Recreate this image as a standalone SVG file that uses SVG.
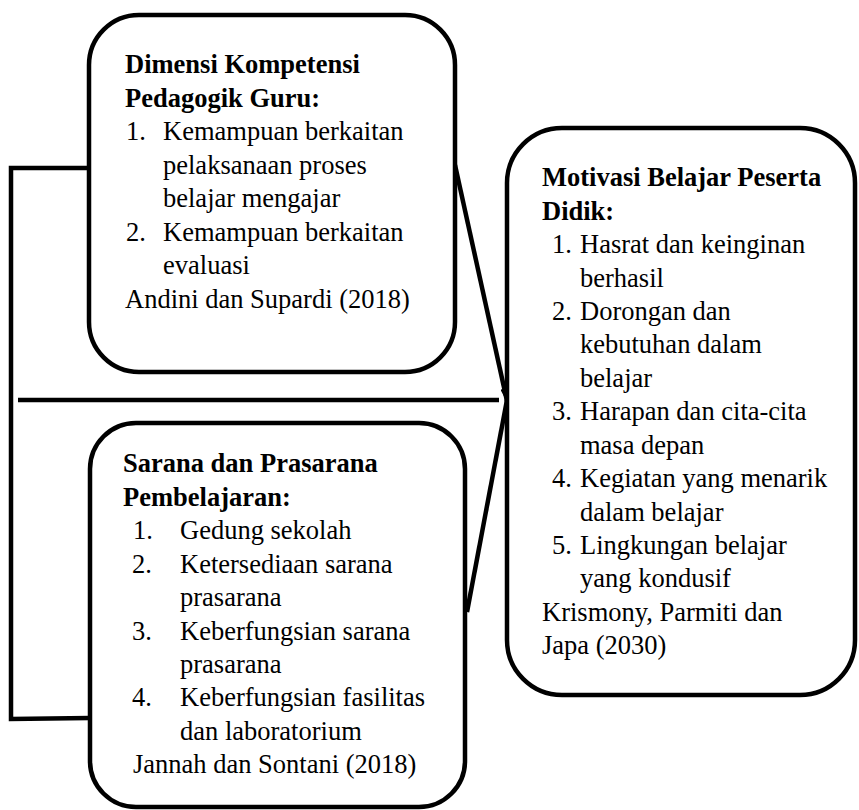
<svg xmlns="http://www.w3.org/2000/svg" width="859" height="810" viewBox="0 0 859 810">
<style>
.box{fill:#fff;stroke:#000;stroke-width:4.5}
.ln{fill:none;stroke:#000;stroke-width:4.5}
text{font-family:"Liberation Serif","Times New Roman",serif;font-size:26.5px;fill:#000}
.b{font-weight:bold}
</style>
<defs>
<marker id="arr" markerWidth="3.2" markerHeight="1.8" refX="2.8" refY="0.9" orient="auto" markerUnits="strokeWidth">
<path d="M0,0 L3.2,0.9 L0,1.8 Z" fill="#000"/>
</marker>
</defs>
<rect width="859" height="810" fill="#fff"/>
<g id="connectors">
<polyline class="ln" points="89,168 11,168 11,719 90,718"/>
<line class="ln" x1="18" y1="400" x2="499" y2="400"/>
<line class="ln" x1="455" y1="165" x2="507" y2="401" marker-end="url(#arr)"/>
<line class="ln" x1="467" y1="612" x2="507" y2="400"/>
</g>
<g id="node-kompetensi">
<rect class="box" x="89" y="15" width="366" height="357" rx="50" ry="50"/>
<text class="b" x="125" y="73">Dimensi Kompetensi</text>
<text class="b" x="125" y="106.5">Pedagogik Guru:</text>
<text x="126" y="140">1.</text><text x="163" y="140">Kemampuan berkaitan</text>
<text x="163" y="173.5">pelaksanaan proses</text>
<text x="163" y="207">belajar mengajar</text>
<text x="126" y="240.5">2.</text><text x="163" y="240.5">Kemampuan berkaitan</text>
<text x="163" y="274">evaluasi</text>
<text x="125" y="307.5">Andini dan Supardi (2018)</text>
</g>
<g id="node-sarana">
<rect class="box" x="90" y="423" width="375" height="384" rx="46" ry="46"/>
<text class="b" x="123" y="472.3">Sarana dan Prasarana</text>
<text class="b" x="123" y="505.7">Pembelajaran:</text>
<text x="133" y="539.2">1.</text><text x="180" y="539.2">Gedung sekolah</text>
<text x="132" y="572.6">2.</text><text x="180" y="572.6">Ketersediaan sarana</text>
<text x="180" y="606">prasarana</text>
<text x="132" y="639.5">3.</text><text x="180" y="639.5">Keberfungsian sarana</text>
<text x="180" y="672.9">prasarana</text>
<text x="132" y="706.3">4.</text><text x="180" y="706.3">Keberfungsian fasilitas</text>
<text x="180" y="739.8">dan laboratorium</text>
<text x="133" y="773.2">Jannah dan Sontani (2018)</text>
</g>
<g id="node-motivasi">
<rect class="box" x="507" y="128" width="348" height="567" rx="55" ry="55"/>
<text class="b" x="542" y="186">Motivasi Belajar Peserta</text>
<text class="b" x="542" y="219.6">Didik:</text>
<text x="552" y="253">1.</text><text x="580" y="253">Hasrat dan keinginan</text>
<text x="580" y="286.5">berhasil</text>
<text x="552" y="320">2.</text><text x="580" y="320">Dorongan dan</text>
<text x="580" y="353.4">kebutuhan dalam</text>
<text x="580" y="386.8">belajar</text>
<text x="552" y="420.2">3.</text><text x="580" y="420.2">Harapan dan cita-cita</text>
<text x="580" y="453.6">masa depan</text>
<text x="552" y="487">4.</text><text x="580" y="487">Kegiatan yang menarik</text>
<text x="580" y="520.5">dalam belajar</text>
<text x="552" y="553.9">5.</text><text x="580" y="553.9">Lingkungan belajar</text>
<text x="580" y="587.3">yang kondusif</text>
<text x="542" y="620.8">Krismony, Parmiti dan</text>
<text x="542" y="654.2">Japa (2030)</text>
</g>
</svg>
